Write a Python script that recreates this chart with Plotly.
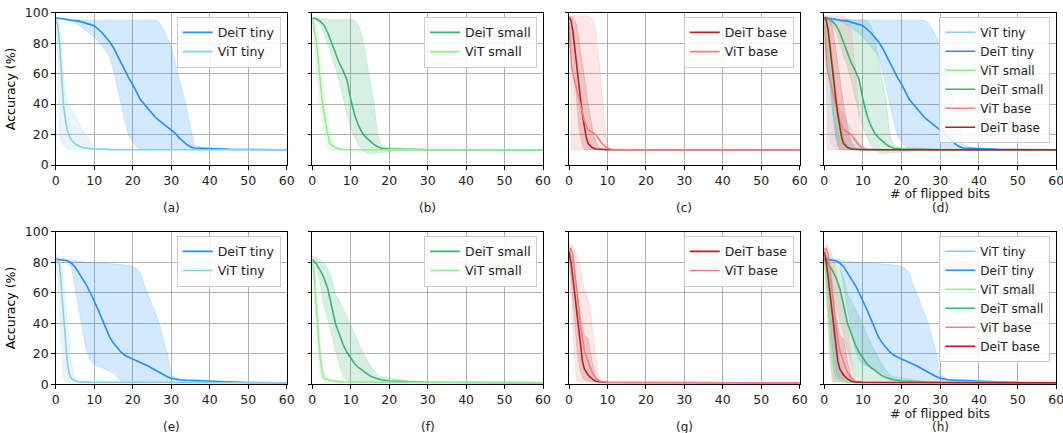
import plotly.graph_objects as go

# ---------------- data ----------------
X_TICKS = [0, 10, 20, 30, 40, 50, 60]
Y_TICKS = [0, 20, 40, 60, 80, 100]
PANEL_LABELS = ["(a)", "(b)", "(c)", "(d)", "(e)", "(f)", "(g)", "(h)"]
X_TITLE = "# of flipped bits"
Y_TITLE = "Accuracy (%)"

# Row 1
deit_tiny_1_x = [0, 2, 4, 6, 8, 10, 12, 14, 15, 16, 17, 18, 19, 20, 21, 22, 24, 26, 27, 28, 29, 30, 31, 32, 33, 34, 35, 36, 38, 40, 45, 60]
deit_tiny_1_mean = [96.5, 96, 95, 94.5, 93, 91.5, 87, 81, 77, 72, 66, 61, 57, 53, 48, 43, 37, 31, 29, 27, 25.5, 23.5, 21, 18, 15.5, 13.5, 12, 11.2, 11, 10.8, 10.3, 10]
deit_tiny_1_lo = [96, 95.5, 94.5, 92, 88, 84, 78, 71, 62, 52, 40, 28, 19, 15, 12, 11, 10.5, 10.2, 10, 10, 10, 10, 10, 10, 10, 10, 10, 10, 10, 10, 10, 10]
deit_tiny_1_hi = [96.5, 96, 95.5, 95.5, 95, 95, 95, 95, 95, 95, 95, 95, 95, 95, 95, 95, 95, 95, 93, 89, 84, 77, 68, 57, 48, 38, 25, 13, 11.5, 11, 10.5, 10]

vit_tiny_1_x = [0, 0.5, 1, 1.5, 2, 2.5, 3, 3.5, 4, 5, 6, 7, 8, 9, 10, 12, 15, 60]
vit_tiny_1_mean = [96, 92, 80, 60, 40, 30, 23, 19, 16.5, 14, 12.3, 11.5, 11, 10.8, 10.5, 10.3, 10.1, 10]
vit_tiny_1_lo = [96, 75, 22, 15, 13, 11.5, 10.5, 10.2, 10, 10, 10, 10, 10, 10, 10, 10, 10, 10]
vit_tiny_1_hi = [96.5, 95, 92, 80, 60, 48, 41, 39, 37, 33, 28, 23, 18.5, 15, 12, 10.8, 10.3, 10]

deit_small_1_x = [0, 1, 2, 3, 4, 5, 6, 7, 8, 9, 10, 11, 12, 13, 14, 15, 16, 17, 18, 20, 22, 25, 30, 60]
deit_small_1_mean = [96.5, 96, 94.5, 92, 87, 80, 73, 67, 62, 56, 43, 33, 26, 21, 18, 15.5, 13.5, 12, 11, 10.5, 10.3, 10.2, 10, 10]
deit_small_1_lo = [96, 95, 92, 87, 80, 72, 64, 55, 45, 33, 24, 18, 13, 10, 8, 7.5, 7.5, 8, 8, 8.5, 9, 9.5, 10, 10]
deit_small_1_hi = [97, 96.5, 96, 95.5, 95.5, 95.5, 95.5, 95.5, 95.5, 95.5, 95.5, 95, 92, 84, 70, 58, 42, 20, 13, 11.5, 11.2, 11, 10.5, 10]

vit_small_1_x = [0, 0.5, 1, 1.5, 2, 2.5, 3, 3.5, 4, 4.5, 5, 6, 7, 8, 10, 60]
vit_small_1_mean = [96, 90, 82, 70, 55, 44, 35, 27, 20, 15, 13, 11.5, 10.5, 10.2, 10, 10]
vit_small_1_lo = [95, 85, 70, 52, 38, 28, 20, 14, 11, 10, 9.5, 9.5, 10, 10, 10, 10]
vit_small_1_hi = [97, 95, 92, 85, 72, 60, 50, 40, 32, 25, 18, 13, 11, 10.5, 10.2, 10]

deit_base_1_x = [0, 0.5, 1, 1.5, 2, 2.5, 3, 3.5, 4, 4.5, 5, 5.5, 6, 7, 8, 10, 60]
deit_base_1_mean = [97, 95, 88, 76, 65, 54, 43, 33, 24, 18, 14, 12.5, 11.5, 10.5, 10.2, 10, 10]
deit_base_1_lo = [94, 85, 70, 55, 40, 28, 18, 13, 10, 10, 10, 10, 10, 10, 10, 10, 10]
deit_base_1_hi = [98, 97.5, 97, 95, 92, 84, 75, 65, 55, 47, 40, 33, 25, 15, 11, 10.2, 10]

vit_base_1_x = [0, 0.5, 0.7, 1, 2, 3, 4, 5, 6, 6.5, 7, 7.5, 8, 8.5, 9, 9.5, 10, 11, 12, 15, 60]
vit_base_1_mean = [92, 70, 65, 60, 50, 39, 29, 23, 21.5, 21, 20, 18, 16, 14.5, 13, 12, 11, 10.3, 10.2, 10, 10]
vit_base_1_lo = [88, 50, 10, 10, 10, 10, 10, 10, 10, 10, 10, 10, 10, 10, 10, 10, 10, 10, 10, 10, 10]
vit_base_1_hi = [98, 98, 98, 98, 98, 98, 98, 98, 96, 93, 88, 78, 65, 50, 35, 22, 13, 10.5, 10.3, 10.1, 10]

# Row 2
deit_tiny_2_x = [0, 2, 3, 4, 5, 6, 7, 8, 9, 10, 11, 12, 13, 14, 15, 16, 17, 18, 19, 20, 21, 22, 23, 24, 25, 26, 27, 28, 29, 30, 32, 34, 36, 38, 40, 42, 45, 50, 60]
deit_tiny_2_mean = [82, 81.5, 81, 79.5, 77, 73, 69, 65, 60, 55, 49, 43, 37, 31, 27, 24, 21, 19, 17.5, 16.5, 15.5, 14.5, 13, 12, 10.5, 9, 7.5, 6.3, 5, 4, 3, 2.7, 2.5, 2.3, 2, 1.8, 1.5, 1.2, 1]
deit_tiny_2_lo = [82, 81.5, 81, 78, 65, 50, 35, 22, 16, 13, 11.5, 10.5, 9.5, 8.5, 7.5, 5, 2, 1.5, 1.5, 1.5, 1.5, 1.5, 1.3, 1.3, 1.2, 1.2, 1.2, 1.2, 1.2, 1.2, 1.1, 1.1, 1.1, 1, 1, 1, 1, 1, 1]
deit_tiny_2_hi = [83, 82.5, 82, 81.5, 81, 80.5, 80.3, 80, 80, 80, 79.8, 79.6, 79.4, 79.2, 79, 78.7, 78.3, 78, 78, 77, 76, 73, 65, 59, 53, 46, 39, 30, 20, 6, 3.5, 3.2, 3, 3, 1.8, 1.5, 1.2, 1, 1]

vit_tiny_2_x = [0, 0.5, 1, 1.5, 2, 2.5, 3, 3.5, 4, 5, 6, 8, 10, 60]
vit_tiny_2_mean = [82, 81, 78, 63, 45, 28, 15, 7, 4, 2.2, 1.6, 1.4, 1.3, 1]
vit_tiny_2_lo = [80, 70, 50, 20, 5, 1.5, 1.2, 1.2, 1.2, 1.2, 1.2, 1.2, 1.2, 1]
vit_tiny_2_hi = [86, 84, 82, 78, 70, 55, 40, 25, 15, 5, 2.5, 2, 1.5, 1]

deit_small_2_x = [0, 1, 2, 3, 4, 5, 6, 7, 8, 9, 10, 11, 12, 14, 15, 16, 17, 18, 20, 22, 25, 30, 60]
deit_small_2_mean = [82, 79, 75, 70, 63, 52, 40, 33, 26, 21, 17, 13.5, 11, 7, 5.5, 4.5, 3.5, 3, 2.2, 2, 1.7, 1.3, 1]
deit_small_2_lo = [82, 78, 67, 52, 42, 33, 22, 13, 5, 2.5, 1.5, 1.3, 1.2, 1.2, 1.2, 1.2, 1.2, 1.2, 1.1, 1.1, 1, 1, 1]
deit_small_2_hi = [84, 83, 82, 79, 76, 70, 59, 55, 50, 45, 39, 33, 27, 17, 13, 9, 6, 5, 4, 3.5, 2, 1.5, 1]

vit_small_2_x = [0, 0.5, 1, 1.5, 2, 2.5, 3, 4, 6, 8, 60]
vit_small_2_mean = [81, 72, 52, 33, 19, 9, 4, 3, 2, 1.5, 1]
vit_small_2_lo = [78, 60, 40, 20, 8, 3, 2, 1.5, 1.2, 1.2, 1]
vit_small_2_hi = [84, 80, 62, 45, 30, 15, 8, 4, 2.5, 2, 1]

deit_base_2_x = [0, 0.5, 1, 1.5, 2, 2.5, 3, 3.5, 4, 5, 6, 7, 8, 10, 60]
deit_base_2_mean = [87, 80, 70, 59, 48, 37, 24, 15, 10, 6, 3.5, 2, 1.5, 1.2, 1]
deit_base_2_lo = [85, 70, 55, 40, 25, 15, 8, 5, 3, 2, 1.5, 1.2, 1.2, 1.1, 1]
deit_base_2_hi = [90, 86, 80, 72, 65, 55, 45, 38, 32, 30, 15, 5, 2, 1.5, 1]

vit_base_2_x = [0, 0.5, 1, 1.5, 2, 2.5, 3, 4, 5, 5.5, 6, 7, 7.5, 8, 10, 60]
vit_base_2_mean = [88, 89, 85, 75, 62, 50, 38, 22, 14, 11, 8, 4, 3, 2, 1.3, 1]
vit_base_2_lo = [85, 60, 35, 15, 2, 1.5, 1.5, 1.5, 1.5, 1.5, 1.5, 1.2, 1.2, 1.2, 1.1, 1]
vit_base_2_hi = [92, 91.5, 91, 88, 85, 80, 75, 62, 55, 50, 40, 20, 8, 3, 1.5, 1]

# ---------------- styling ----------------
COLORS = {
    "DeiT tiny": (30, 144, 255),
    "ViT tiny": (135, 206, 235),
    "DeiT small": (60, 179, 113),
    "ViT small": (144, 238, 144),
    "DeiT base": (178, 34, 34),
    "ViT base": (240, 128, 128),
}

SERIES = {
    1: {
        "DeiT tiny": (deit_tiny_1_x, deit_tiny_1_mean, deit_tiny_1_lo, deit_tiny_1_hi),
        "ViT tiny": (vit_tiny_1_x, vit_tiny_1_mean, vit_tiny_1_lo, vit_tiny_1_hi),
        "DeiT small": (deit_small_1_x, deit_small_1_mean, deit_small_1_lo, deit_small_1_hi),
        "ViT small": (vit_small_1_x, vit_small_1_mean, vit_small_1_lo, vit_small_1_hi),
        "DeiT base": (deit_base_1_x, deit_base_1_mean, deit_base_1_lo, deit_base_1_hi),
        "ViT base": (vit_base_1_x, vit_base_1_mean, vit_base_1_lo, vit_base_1_hi),
    },
    2: {
        "DeiT tiny": (deit_tiny_2_x, deit_tiny_2_mean, deit_tiny_2_lo, deit_tiny_2_hi),
        "ViT tiny": (vit_tiny_2_x, vit_tiny_2_mean, vit_tiny_2_lo, vit_tiny_2_hi),
        "DeiT small": (deit_small_2_x, deit_small_2_mean, deit_small_2_lo, deit_small_2_hi),
        "ViT small": (vit_small_2_x, vit_small_2_mean, vit_small_2_lo, vit_small_2_hi),
        "DeiT base": (deit_base_2_x, deit_base_2_mean, deit_base_2_lo, deit_base_2_hi),
        "ViT base": (vit_base_2_x, vit_base_2_mean, vit_base_2_lo, vit_base_2_hi),
    },
}

PANEL_SERIES = [
    ["DeiT tiny", "ViT tiny"],
    ["DeiT small", "ViT small"],
    ["DeiT base", "ViT base"],
    ["ViT tiny", "DeiT tiny", "ViT small", "DeiT small", "ViT base", "DeiT base"],
]

W, H = 1063, 433
X_DOM_PX = [(55.7, 286.7), (312.3, 543.0), (569.0, 799.7), (824.3, 1056.3)]
Y_DOM_PX = [(12.7, 165.0), (231.7, 384.3)]  # top, bottom in pixels

FONT = "DejaVu Sans"

fig = go.Figure()
layout = dict(
    width=W, height=H, margin=dict(l=0, r=0, t=0, b=0, autoexpand=False),
    paper_bgcolor="white", plot_bgcolor="white",
    font=dict(family=FONT, size=12, color="black"),
    showlegend=True,
)
annotations = []

for r in range(2):
    for c in range(4):
        idx = r * 4 + c + 1
        xa = "x" if idx == 1 else f"x{idx}"
        ya = "y" if idx == 1 else f"y{idx}"
        xkey = "xaxis" if idx == 1 else f"xaxis{idx}"
        ykey = "yaxis" if idx == 1 else f"yaxis{idx}"
        lg = "legend" if idx == 1 else f"legend{idx}"
        x0, x1 = X_DOM_PX[c]
        ytop, ybot = Y_DOM_PX[r]
        layout[xkey] = dict(
            domain=[x0 / W, x1 / W], anchor=ya, range=[0, 60],
            tickvals=X_TICKS, ticks="outside", ticklen=3.5, tickwidth=1, tickcolor="black",
            showline=True, linecolor="black", linewidth=1, mirror=True,
            showgrid=True, gridcolor="#b0b0b0", gridwidth=0.8, zeroline=False,
            tickfont=dict(size=12.5, family=FONT, color="#222"), automargin=False,
            ticklabeloverflow="allow",
        )
        layout[ykey] = dict(
            domain=[1 - ybot / H, 1 - ytop / H], anchor=xa, range=[0, 100],
            tickvals=Y_TICKS, ticks="outside", ticklen=3.5, tickwidth=1, tickcolor="black",
            showline=True, linecolor="black", linewidth=1, mirror=True,
            showgrid=True, gridcolor="#b0b0b0", gridwidth=0.8, zeroline=False,
            showticklabels=(c == 0), automargin=False, ticklabeloverflow="allow",
            tickfont=dict(size=12.5, family=FONT, color="#222"),
        )
        if c == 0:
            layout[ykey]["title"] = dict(text=Y_TITLE, font=dict(size=12.5, family=FONT), standoff=6)

        names = PANEL_SERIES[c]
        data = SERIES[r + 1]
        # bands first
        for nm in names:
            xs, m, lo, hi = data[nm]
            rr, gg, bb = COLORS[nm]
            fig.add_trace(go.Scatter(
                x=list(xs) + list(xs)[::-1], y=list(hi) + list(lo)[::-1],
                fill="toself", fillcolor=f"rgba({rr},{gg},{bb},0.2)",
                line=dict(color=f"rgba({rr},{gg},{bb},0.2)", width=0.8),
                mode="lines", showlegend=False, hoverinfo="skip",
                xaxis=xa, yaxis=ya,
            ))
        for nm in names:
            xs, m, lo, hi = data[nm]
            rr, gg, bb = COLORS[nm]
            fig.add_trace(go.Scatter(
                x=xs, y=m, mode="lines", name=nm,
                line=dict(color=f"rgb({rr},{gg},{bb})", width=1.6),
                xaxis=xa, yaxis=ya, legend=lg,
            ))
        layout[lg] = dict(
            x=(x1 - 6) / W, y=1 - (ytop + 4) / H, xanchor="right", yanchor="top",
            bgcolor="rgba(255,255,255,0.85)", bordercolor="#cccccc", borderwidth=1,
            font=dict(size=12.5 if c < 3 else 12, family=FONT, color="#222"),
            tracegroupgap=0, itemwidth=30,
        )
        # panel label
        xc = (x0 + x1) / 2 / W
        lab_y = 208 if r == 0 else 427
        annotations.append(dict(
            x=xc, y=1 - lab_y / H, xref="paper", yref="paper", text=PANEL_LABELS[idx - 1],
            showarrow=False, font=dict(size=12, family=FONT, color="#222"),
            xanchor="center", yanchor="middle",
        ))
        if c == 3:
            t_y = 193 if r == 0 else 413
            annotations.append(dict(
                x=xc, y=1 - t_y / H, xref="paper", yref="paper", text=X_TITLE,
                showarrow=False, font=dict(size=12.5, family=FONT, color="#222"),
                xanchor="center", yanchor="middle",
            ))

layout["annotations"] = annotations
fig.update_layout(**layout)
fig.write_html(
    "out.html",
    config={"displayModeBar": False},
    post_script="document.body.style.margin='0';document.body.style.padding='0';document.body.style.overflow='hidden';",
)
